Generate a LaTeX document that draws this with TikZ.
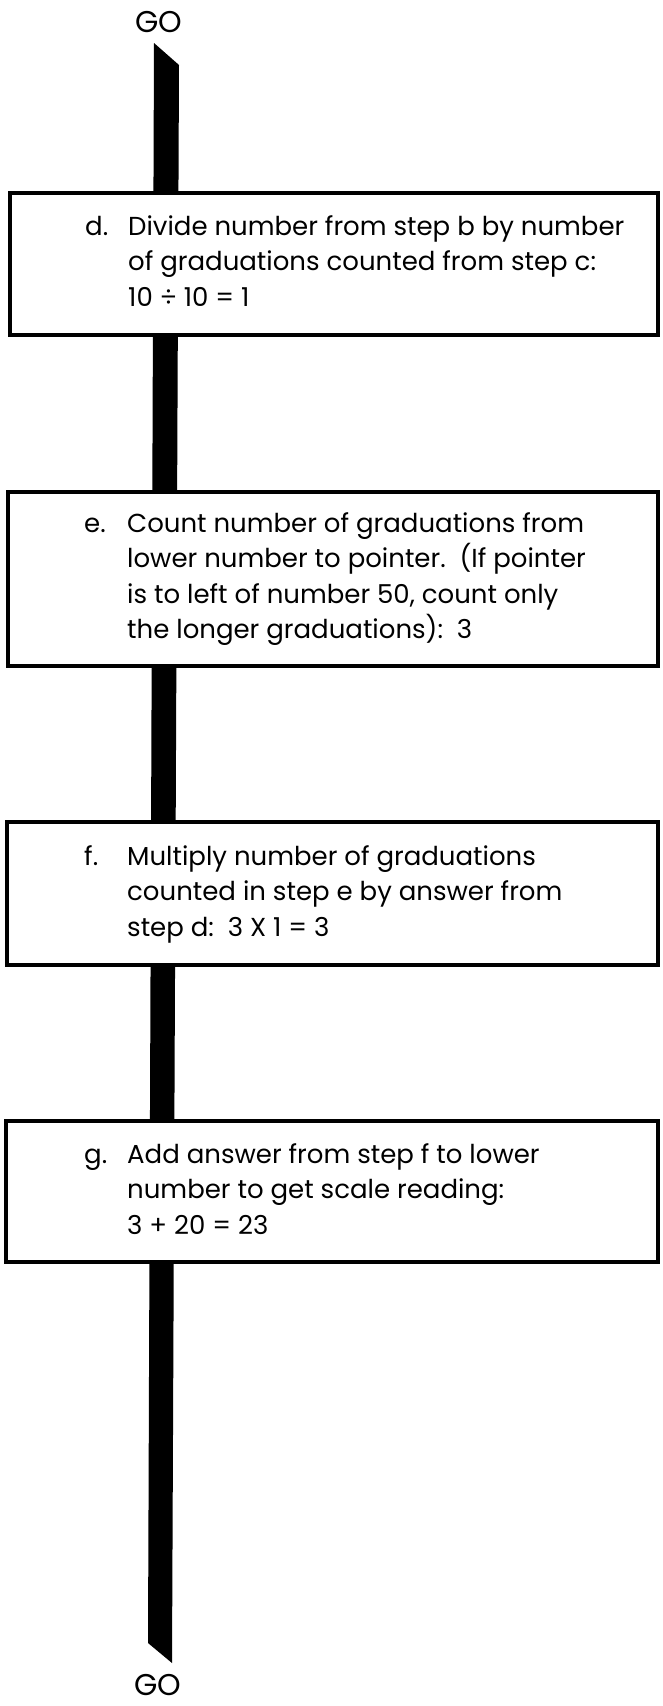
\documentclass[tikz,border=0pt]{standalone}
\usepackage{fontspec}
\setmainfont{Poppins}
\begin{document}
\begin{tikzpicture}[x=1pt,y=-1pt,
  stepbox/.style={draw=black,line width=3.5pt,fill=white,inner sep=0pt,minimum width=650pt},
  steptxt/.style={anchor=base west,inner sep=0pt,font=\fontsize{26}{35.5}\selectfont},
  gotxt/.style={anchor=base,inner sep=0pt,font=\fontsize{30}{33}\selectfont},
  barfill/.style={fill=black,draw=none}]
\useasboundingbox (0,0) rectangle (662,1706);
\node[gotxt] (gotop) at (159,32) {GO};
\node[gotxt] (gobot) at (158,1695) {GO};
\coordinate (btl) at (154,43);
\coordinate (btr) at (179,65);
\coordinate (bbr) at (172,1663);
\coordinate (bbl) at (148,1643);
\path[barfill] (btl) -- (btr) -- (bbr) -- (bbl) -- cycle;
\newcommand{\lbl}[1]{\makebox[43pt][l]{#1}}
\node[stepbox,minimum width=648pt,minimum height=142pt] (d) at (334,264) {};
\node[steptxt] (dt) at (85,235) {\begin{tabular}[t]{@{}l@{}l@{}}\lbl{d.}&Divide number from step b by number\\&of graduations counted from step c:\\&10 ÷ 10 = 1\end{tabular}};
\node[stepbox,minimum width=650pt,minimum height=174pt] (e) at (333,579) {};
\node[steptxt] (et) at (84,532) {\begin{tabular}[t]{@{}l@{}l@{}}\lbl{e.}&Count number of graduations from\\&lower number to pointer.\ \ (If pointer\\&is to left of number 50, count only\\&the longer graduations):\ \ 3\end{tabular}};
\node[stepbox,minimum width=651pt,minimum height=143pt] (f) at (332.5,893.5) {};
\node[steptxt] (ft) at (84,865) {\begin{tabular}[t]{@{}l@{}l@{}}\lbl{f.}&Multiply number of graduations\\&counted in step e by answer from\\&step d:\ \ 3 X 1 = 3\end{tabular}};
\node[stepbox,minimum width=652pt,minimum height=141pt] (g) at (332,1191.5) {};
\node[steptxt] (gt) at (84,1163) {\begin{tabular}[t]{@{}l@{}l@{}}\lbl{g.}&Add answer from step f to lower\\&number to get scale reading:\\&3 + 20 = 23\end{tabular}};
\end{tikzpicture}
\end{document}
